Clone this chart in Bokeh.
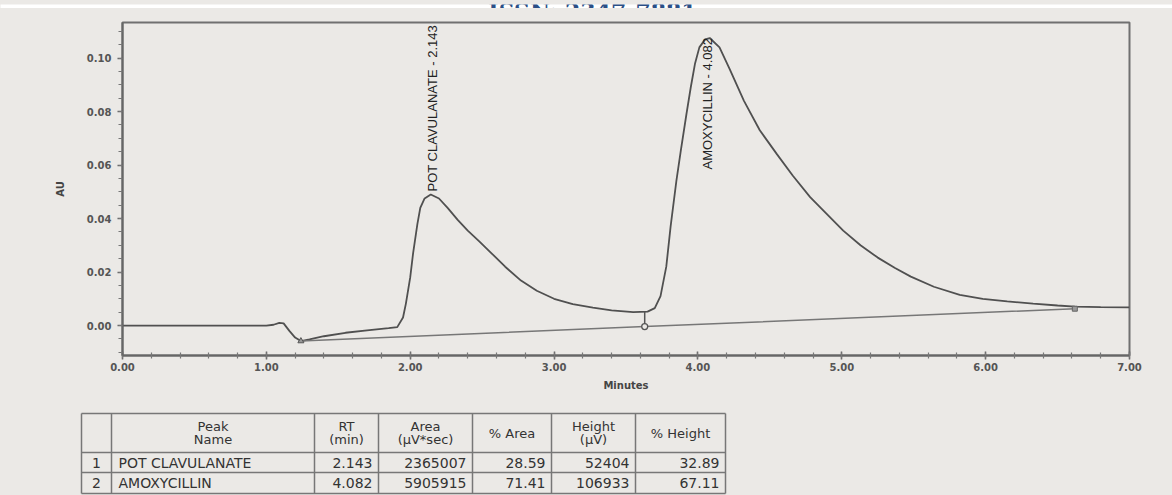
import numpy as np
from bokeh.plotting import figure
from bokeh.layouts import column
from bokeh.models import Range1d, FixedTicker, PrintfTickFormatter
from bokeh.core.properties import value
from bokeh.embed import file_html
from bokeh.resources import INLINE

# ---- Chromatogram trace: retention time (min) vs detector response (AU) ----
time_min = [0.00, 0.50, 1.00, 1.05, 1.09, 1.12, 1.16, 1.20, 1.24, 1.30, 1.40,
            1.55, 1.70, 1.85, 1.91, 1.95, 1.97, 2.00, 2.02, 2.05, 2.07, 2.10,
            2.143, 2.20, 2.26, 2.33, 2.40, 2.48, 2.56, 2.66, 2.77, 2.88, 3.00,
            3.13, 3.27, 3.40, 3.55, 3.65, 3.70, 3.74, 3.78, 3.81, 3.85, 3.88,
            3.92, 3.95, 3.98, 4.01, 4.05, 4.082, 4.15, 4.22, 4.32, 4.43, 4.55,
            4.66, 4.78, 4.90, 5.01, 5.13, 5.25, 5.37, 5.48, 5.64, 5.82, 5.98,
            6.15, 6.33, 6.50, 6.62, 6.80, 7.00]
absorbance = [0.0000, 0.0000, 0.0000, 0.0003, 0.0010, 0.0008, -0.0020, -0.0045,
              -0.0058, -0.0052, -0.0040, -0.0027, -0.0018, -0.0010, -0.0006,
              0.0030, 0.0082, 0.0180, 0.0270, 0.0380, 0.0440, 0.0475, 0.0490,
              0.0475, 0.0440, 0.0395, 0.0355, 0.0315, 0.0273, 0.0220, 0.0168,
              0.0130, 0.0100, 0.0080, 0.0067, 0.0057, 0.0050, 0.0052, 0.0065,
              0.0110, 0.0220, 0.0370, 0.0540, 0.0650, 0.0790, 0.0890, 0.0980,
              0.1040, 0.1070, 0.1075, 0.1040, 0.0960, 0.0840, 0.0730, 0.0640,
              0.0560, 0.0480, 0.0415, 0.0355, 0.0300, 0.0254, 0.0215, 0.0183,
              0.0145, 0.0115, 0.0100, 0.0090, 0.0082, 0.0075, 0.0071, 0.0069,
              0.0068]

# ---- Integration baseline (start, valley drop, end) ----
baseline_t = [1.24, 3.63, 6.62]
baseline_au = [-0.0058, -0.0004, 0.0063]

# ---- Peak results table ----
peak_no = ["1", "2"]
peak_names = ["POT CLAVULANATE", "AMOXYCILLIN"]
rt_min = [2.143, 4.082]
area_uv_sec = [2365007, 5905915]
pct_area = [28.59, 71.41]
height_uv = [52404, 106933]
pct_height = [32.89, 67.11]

x_ticks = [0, 1, 2, 3, 4, 5, 6, 7]
y_ticks = [0.00, 0.02, 0.04, 0.06, 0.08, 0.10]

W = 1172
BG = "#ebe9e6"
INK = "#555555"

# ---- Journal header strip ----
header = figure(width=W, height=8, x_range=Range1d(0, W), y_range=Range1d(8, 0),
                x_axis_type=None, y_axis_type=None, output_backend="svg",
                toolbar_location=None, min_border=0, outline_line_color=None,
                background_fill_color="white", border_fill_color="white",
                frame_align=False)
header.grid.visible = False
header.text(x=[592], y=[6], text=["ISSN: 2347-7881"],
            text_font=value("DejaVu Serif"), text_font_style="bold",
            text_font_size="22px", text_color="#2b4f86",
            text_align="center", text_baseline="alphabetic")

# ---- Chromatogram ----
p = figure(width=W, height=393, x_range=Range1d(0, 7), y_range=Range1d(-0.0112, 0.1133),
           output_backend="svg", toolbar_location=None,
           min_border_left=122, min_border_right=43, min_border_top=14, min_border_bottom=46,
           background_fill_color=BG, border_fill_color=BG,
           outline_line_color="#707070", outline_line_width=2, frame_align=False)
p.xgrid.visible = False
p.ygrid.visible = False

p.xaxis.ticker = FixedTicker(ticks=x_ticks,
                             minor_ticks=[round(v, 2) for v in np.arange(0, 7.001, 0.2)])
p.yaxis.ticker = FixedTicker(ticks=y_ticks,
                             minor_ticks=[round(v, 3) for v in np.arange(-0.010, 0.1131, 0.005)])
p.xaxis.formatter = PrintfTickFormatter(format="%.2f")
p.yaxis.formatter = PrintfTickFormatter(format="%.2f")
p.xaxis.axis_label = "Minutes"
p.yaxis.axis_label = "AU"

for ax in (p.xaxis, p.yaxis):
    ax.axis_line_color = "#666666"
    ax.axis_line_width = 2
    ax.major_tick_line_color = "#666666"
    ax.major_tick_line_width = 1.5
    ax.minor_tick_line_color = "#777777"
    ax.minor_tick_line_width = 1.2
    ax.major_label_text_font = "DejaVu Sans"
    ax.major_label_text_font_style = "bold"
    ax.major_label_text_font_size = "10px"
    ax.major_label_text_color = INK
    ax.axis_label_text_font = "DejaVu Sans"
    ax.axis_label_text_font_style = "bold"
    ax.axis_label_text_font_size = "10px"
    ax.axis_label_text_color = "#444444"

p.xaxis.major_tick_in = 4
p.xaxis.major_tick_out = 4
p.xaxis.minor_tick_in = 3
p.xaxis.minor_tick_out = 3
p.xaxis.major_label_standoff = 3
p.xaxis.axis_label_standoff = 6
p.yaxis.major_tick_in = 0
p.yaxis.major_tick_out = 5
p.yaxis.minor_tick_in = 0
p.yaxis.minor_tick_out = 4
p.yaxis.major_label_standoff = 6
p.yaxis.axis_label_standoff = 18

# trace
p.line(time_min, absorbance, line_color="#505050", line_width=1.8)

# integration baseline, valley drop line and markers
p.line(baseline_t, baseline_au, line_color="#777777", line_width=1.5)
drop_top = float(np.interp(baseline_t[1], time_min, absorbance))
p.segment(x0=[baseline_t[1]], y0=[baseline_au[1]], x1=[baseline_t[1]], y1=[drop_top],
          line_color="#555555", line_width=1.5)
p.scatter([baseline_t[0]], [baseline_au[0]], marker="triangle", size=6,
          fill_color="#999999", line_color="#555555")
p.scatter([baseline_t[1]], [baseline_au[1]], marker="circle", size=6,
          fill_color=BG, line_color="#555555", line_width=1.3)
p.scatter([baseline_t[2]], [baseline_au[2]], marker="square", size=5,
          fill_color="#999999", line_color="#666666")

# peak labels
apex = [float(np.interp(t, time_min, absorbance)) for t in rt_min]
labels = [f"{n} - {t:.3f}" for n, t in zip(peak_names, rt_min)]
p.text(x=[rt_min[0]], y=[apex[0]], text=[labels[0]], angle=np.pi / 2,
       text_align="left", text_baseline="middle", x_offset=2, y_offset=-3,
       text_font=value("Liberation Sans"), text_font_size="13px", text_color="#222222")
p.text(x=[rt_min[1]], y=[apex[1]], text=[labels[1]], angle=np.pi / 2,
       text_align="right", text_baseline="middle", x_offset=-2, y_offset=0,
       text_font=value("Liberation Sans"), text_font_size="13px", text_color="#222222")

# ---- Peak table ----
t = figure(width=W, height=94, x_range=Range1d(0, W), y_range=Range1d(495, 401),
           x_axis_type=None, y_axis_type=None, output_backend="svg",
           toolbar_location=None, min_border=0, outline_line_color=None,
           background_fill_color=BG, border_fill_color=BG, frame_align=False)
t.grid.visible = False

col_edges = [81, 111, 314, 378, 472, 551, 635, 725]
row_edges = [413, 452, 472, 493]
t.segment(x0=[col_edges[0]] * len(row_edges), y0=row_edges,
          x1=[col_edges[-1]] * len(row_edges), y1=row_edges,
          line_color="#777777", line_width=1.5)
t.segment(x0=col_edges, y0=[row_edges[0]] * len(col_edges),
          x1=col_edges, y1=[row_edges[-1]] * len(col_edges),
          line_color="#777777", line_width=1.5)

FONT = value("DejaVu Sans")
hdr_top = ["", "Peak", "RT", "Area", "% Area", "Height", "% Height"]
hdr_bot = ["", "Name", "(min)", "(µV*sec)", "", "(µV)", ""]
for i in range(1, 7):
    cx = (col_edges[i] + col_edges[i + 1]) / 2
    if hdr_bot[i]:
        t.text(x=[cx, cx], y=[426, 439], text=[hdr_top[i], hdr_bot[i]],
               text_align="center", text_baseline="middle", text_font=FONT,
               text_font_size="13px", text_color="#333333")
    else:
        t.text(x=[cx], y=[433], text=[hdr_top[i]], text_align="center",
               text_baseline="middle", text_font=FONT, text_font_size="13px",
               text_color="#333333")

row_mid = [(row_edges[1] + row_edges[2]) / 2, (row_edges[2] + row_edges[3]) / 2]
t.text(x=[(col_edges[0] + col_edges[1]) / 2] * 2, y=row_mid, text=peak_no,
       text_align="center", text_baseline="middle", text_font=FONT,
       text_font_size="14px", text_color="#333333")
t.text(x=[col_edges[1] + 7] * 2, y=row_mid, text=peak_names,
       text_align="left", text_baseline="middle", text_font=FONT,
       text_font_size="14px", text_color="#333333")
num_cols = [[f"{v:.3f}" for v in rt_min], [str(v) for v in area_uv_sec],
            [f"{v:.2f}" for v in pct_area], [str(v) for v in height_uv],
            [f"{v:.2f}" for v in pct_height]]
for k, vals in enumerate(num_cols):
    t.text(x=[col_edges[k + 3] - 6] * 2, y=row_mid, text=vals,
           text_align="right", text_baseline="middle", text_font=FONT,
           text_font_size="14px", text_color="#333333")

layout = column(header, p, t, spacing=0, styles={"background-color": BG})
open("out.html", "w").write(file_html(layout, INLINE))
